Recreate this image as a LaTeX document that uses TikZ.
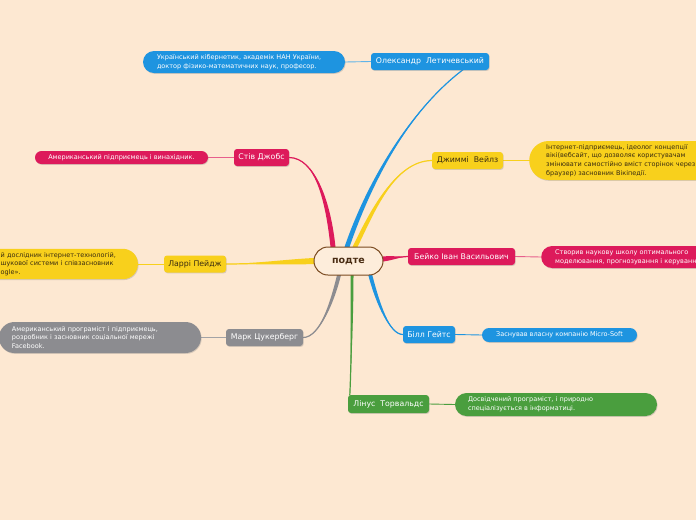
\documentclass[tikz,border=0pt]{standalone}
\usepackage{fontspec}
\setmainfont{DejaVu Sans}
\usetikzlibrary{shadows,calc}
\pgfdeclarelayer{back}
\pgfdeclarelayer{branch}
\pgfsetlayers{back,branch,main}
\definecolor{bg}{HTML}{FDE8D2}
\definecolor{cblue}{HTML}{1E94E0}
\definecolor{ccrim}{HTML}{DD1A5B}
\definecolor{cyel}{HTML}{F8D01C}
\definecolor{cgray}{HTML}{8C8C90}
\definecolor{cgreen}{HTML}{4A9E3E}
\definecolor{cbrown}{HTML}{7A4A20}
\definecolor{ctxt}{HTML}{3A2C10}
\tikzset{
  topic/.style={rounded corners=3pt, inner sep=0pt, minimum height=17pt,
    font=\fontsize{7.8}{9}\selectfont,
    drop shadow={shadow xshift=0.7pt, shadow yshift=-0.9pt, opacity=0.3}},
  desc/.style={inner ysep=0pt, font=\fontsize{6.5}{8.7}\selectfont,
    drop shadow={shadow xshift=0.7pt, shadow yshift=-0.9pt, opacity=0.3}},
  link/.style={line width=0.9pt},
}
\newcommand\taper[7]{%
  \fill[#1] ($#2+(#6,#7)$) .. controls ($#3+(#6,#7)$) and #4 .. #5
     .. controls #4 and ($#3-(#6,#7)$) .. ($#2-(#6,#7)$) -- cycle;
  \draw[#1,line width=1.2pt] #2 .. controls #3 and #4 .. #5;}
\begin{document}
\begin{tikzpicture}[x=1pt,y=-1pt]
\useasboundingbox (0,0) rectangle (696,520);
\begin{pgfonlayer}{back}
\fill[bg] (0,0) rectangle (696,520);
\end{pgfonlayer}

% centre
\node[draw=cbrown, line width=1pt, fill=bg!80!white, rounded corners=14pt,
  minimum width=69pt, minimum height=28pt, inner sep=0pt,
  font=\bfseries\fontsize{9.5}{11}\selectfont, text=cbrown!60!black] (c) at (348.5,261) {подте};

% topics
\node[topic, fill=cblue, text=white, minimum width=118pt] (olek) at (430,61.5) {Олександр\ \ Летичевський};
\node[topic, fill=ccrim, text=white, minimum width=55pt] (steve) at (261.5,157.5) {Стів Джобс};
\node[topic, fill=cyel, text=ctxt, minimum width=71pt] (jim) at (467.5,160.5) {Джиммі\ \ Вейлз};
\node[topic, fill=cyel, text=ctxt, minimum width=62pt] (larry) at (195,264) {Ларрі Пейдж};
\node[topic, fill=ccrim, text=white, minimum width=107pt] (beiko) at (461.5,256.5) {Бейко Іван Васильович};
\node[topic, fill=cgray, text=white, minimum width=77pt] (mark) at (264.5,337.5) {Марк Цукерберг};
\node[topic, fill=cblue, text=white, minimum width=52pt] (bill) at (429,334.5) {Білл Гейтс};
\node[topic, fill=cgreen, text=white, minimum width=81pt, minimum height=18pt] (linus) at (388.5,404) {Лінус\ \ Торвальдс};

% descriptions
\node[desc, fill=cblue, text=white, rounded corners=11pt, minimum height=22pt,
  inner xsep=14pt, text width=174pt, align=left] (olekd) at (244,62)
  {Український кібернетик, академік НАН України,\\доктор фізико-математичних наук, професор.};
\node[desc, fill=ccrim, text=white, rounded corners=6.5pt, minimum height=13pt,
  inner xsep=0pt, minimum width=173pt] (steved) at (121.5,157.5)
  {Американський підприємець і винахідник.};
\node[desc, fill=cyel, text=ctxt, rounded corners=19.5pt, minimum height=39pt,
  inner xsep=17pt, text width=200pt, align=left, anchor=west] (jimd) at (529,160.5)
  {Інтернет-підприємець, ідеолог концепції\\вікі(вебсайт, що дозволяє користувачам\\змінювати самостійно вміст сторінок через\\браузер) засновник Вікіпедії.};
\node[inner sep=0pt, font=\fontsize{6.5}{8.7}\selectfont, text=ctxt, text width=137pt,
  align=left, minimum height=30pt, anchor=west] (larryd) at (0.5,264)
  {й дослідник інтернет-технологій,\\шукової системи і співзасновник\\ogle».};
\node[desc, fill=ccrim, text=white, rounded corners=11pt, minimum height=22pt,
  inner xsep=14pt, text width=200pt, align=left, anchor=west] (beikod) at (541,257)
  {Створив наукову школу оптимального\\моделювання, прогнозування і керування};
\node[desc, fill=cgray, text=white, rounded corners=15.5pt, minimum height=31pt,
  inner xsep=13pt, text width=176pt, align=left] (markd) at (100,337.5)
  {Американський програміст і підприємець,\\розробник і засновник соціальної мережі\\Facebook.};
\node[desc, fill=cblue, text=white, rounded corners=7pt, minimum height=14pt,
  inner xsep=0pt, minimum width=155pt] (billd) at (559.5,335)
  {Заснував власну компанію Micro-Soft};
\node[desc, fill=cgreen, text=white, rounded corners=11.5pt, minimum height=23pt,
  inner xsep=13pt, text width=176pt, align=left] (linusd) at (556,404.5)
  {Досвідчений програміст, і природно\\спеціалізується в інформатиці.};

\begin{pgfonlayer}{branch}
\fill[cyel, rounded corners=15pt, drop shadow={shadow xshift=0.7pt, shadow yshift=-0.9pt, opacity=0.3}]
  ($(larryd.north west)+(-60,0)$) rectangle (larryd.south east);
% links topic -> description
\draw[link, cblue!70!white] (olekd.east) -- (olek.west);
\draw[link, ccrim!70!white] (steved.east) -- (steve.west);
\draw[link, cyel] (jim.east) -- (jimd.west);
\draw[link, cyel] (larryd.east) -- (larry.west);
\draw[link, ccrim!70!white] (beiko.east) -- (beikod.west);
\draw[link, cgray!80!white] (markd.east) -- (mark.west);
\draw[link, cblue] (bill.east) -- (billd.west);
\draw[link, cgreen] (linus.east) -- (linusd.west);
% branches
\coordinate (sOlek) at ($(c.north)+(-1.5,0.5)$);
\coordinate (eOlek) at ($(olek.south)+(33,-0.5)$);
\taper{cblue}{(sOlek)}{(370,180)}{(410,110)}{(eOlek)}{2.5}{0}
\coordinate (sJim) at ($(c.north)+(6.5,0.5)$);
\taper{cyel}{(sJim)}{(372,212)}{(395,161)}{(jim.west)}{2.5}{0}
\coordinate (sSteve) at ($(c.north)+(-15.5,0.5)$);
\taper{ccrim}{(sSteve)}{(328,200)}{(315,158)}{(steve.east)}{2.5}{0}
\coordinate (sLarry) at ($(c.west)+(0.5,0)$);
\taper{cyel}{(sLarry)}{(290,262)}{(250,264)}{(larry.east)}{0}{3}
\coordinate (sBeiko) at ($(c.east)+(-0.5,-2)$);
\taper{ccrim}{(sBeiko)}{(392,258)}{(400,257)}{(beiko.west)}{0}{2.5}
\coordinate (sMark) at ($(c.south)+(-9.5,-0.5)$);
\taper{cgray}{(sMark)}{(333,300)}{(320,337.5)}{(mark.east)}{2}{0}
\coordinate (sBill) at ($(c.south)+(21.5,-1.5)$);
\taper{cblue}{(sBill)}{(378,305)}{(390,334.5)}{(bill.west)}{2}{0}
\coordinate (sLinus) at ($(c.south)+(3.5,-0.5)$);
\coordinate (eLinus) at ($(linus.north west)+(2,0.5)$);
\taper{cgreen}{(sLinus)}{(352,320)}{(351,370)}{(eLinus)}{1.5}{0}
\end{pgfonlayer}
\end{tikzpicture}
\end{document}
